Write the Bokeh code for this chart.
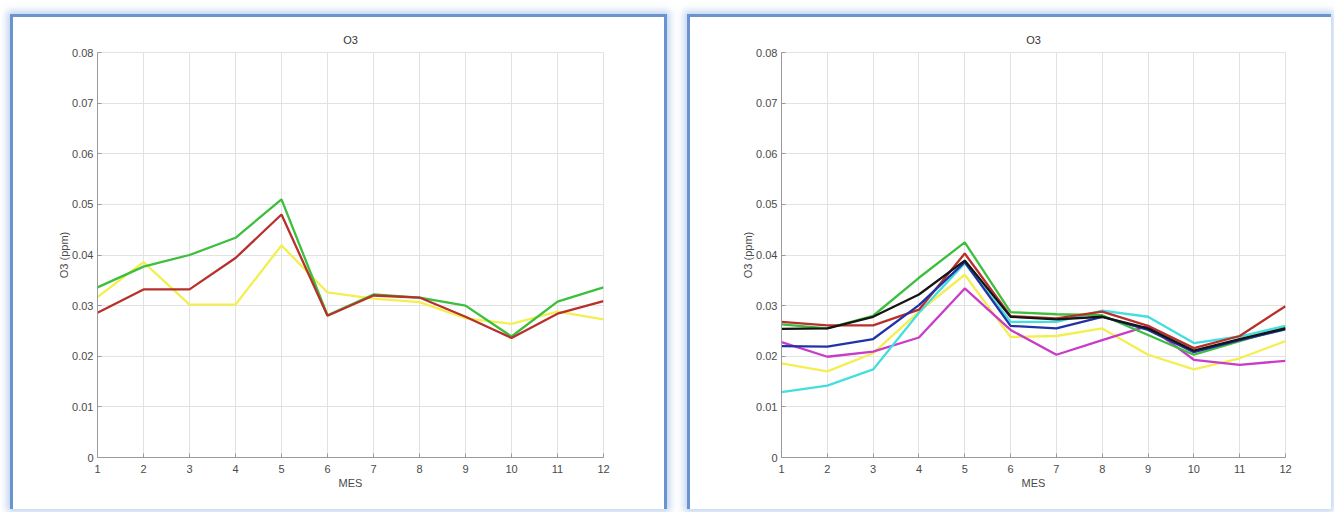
from bokeh.plotting import figure
from bokeh.layouts import row
from bokeh.models import FixedTicker, Range1d, CustomJSTickFormatter
from bokeh.embed import file_html
from bokeh.resources import INLINE

# ---------------- data ----------------
months = [1, 2, 3, 4, 5, 6, 7, 8, 9, 10, 11, 12]
y_ticks = [0.0, 0.01, 0.02, 0.03, 0.04, 0.05, 0.06, 0.07, 0.08]
title_text = "O3"
x_label = "MES"
y_label = "O3 (ppm)"

# left panel
left_yellow = [0.0317, 0.0386, 0.0302, 0.0302, 0.0419, 0.0326, 0.0314, 0.0307, 0.0275, 0.0264, 0.0288, 0.0273]
left_green = [0.0336, 0.0377, 0.0400, 0.0434, 0.0510, 0.0281, 0.0322, 0.0316, 0.0300, 0.0239, 0.0308, 0.0336]
left_red = [0.0286, 0.0332, 0.0332, 0.0394, 0.0480, 0.0280, 0.0320, 0.0316, 0.0278, 0.0236, 0.0284, 0.0309]

# right panel
right_yellow = [0.0186, 0.0170, 0.0206, 0.0288, 0.0361, 0.0238, 0.0240, 0.0255, 0.0203, 0.0174, 0.0196, 0.0230]
right_magenta = [0.0228, 0.0199, 0.0209, 0.0237, 0.0334, 0.0252, 0.0203, 0.0232, 0.0260, 0.0193, 0.0183, 0.0191]
right_cyan = [0.0129, 0.0142, 0.0174, 0.0286, 0.0384, 0.0268, 0.0268, 0.0290, 0.0278, 0.0226, 0.0239, 0.0260]
right_green = [0.0263, 0.0255, 0.0280, 0.0355, 0.0425, 0.0287, 0.0283, 0.0281, 0.0242, 0.0203, 0.0230, 0.0256]
right_red = [0.0268, 0.0261, 0.0261, 0.0292, 0.0403, 0.0279, 0.0275, 0.0288, 0.0260, 0.0216, 0.0240, 0.0299]
right_blue = [0.0220, 0.0219, 0.0234, 0.0301, 0.0386, 0.0260, 0.0255, 0.0278, 0.0252, 0.0208, 0.0232, 0.0253]
right_black = [0.0254, 0.0255, 0.0278, 0.0322, 0.0389, 0.0278, 0.0273, 0.0278, 0.0255, 0.0211, 0.0234, 0.0255]

C_YELLOW = "#f3ef50"
C_GREEN = "#3cbf3c"
C_RED = "#b8302c"
C_MAGENTA = "#c83cc8"
C_CYAN = "#45dede"
C_BLUE = "#2233a8"
C_BLACK = "#151515"

left_series = [(left_yellow, C_YELLOW), (left_green, C_GREEN), (left_red, C_RED)]
right_series = [(right_yellow, C_YELLOW), (right_magenta, C_MAGENTA), (right_cyan, C_CYAN),
                (right_green, C_GREEN), (right_red, C_RED), (right_blue, C_BLUE),
                (right_black, C_BLACK)]

FONT = "Liberation Sans"
BORDER = "3px solid #6a94cf"
SHADOW = "0 0 7px 3px rgba(140,175,225,0.55)"


def make_panel(width, height, mb_left, mb_right, mb_top, mb_bottom, series, margin, styles):
    p = figure(width=width, height=height, output_backend="svg", toolbar_location=None,
               x_range=Range1d(months[0], months[-1]), y_range=Range1d(y_ticks[0], y_ticks[-1]),
               min_border_left=mb_left, min_border_right=mb_right,
               min_border_top=mb_top, min_border_bottom=mb_bottom,
               margin=margin)
    p.styles = styles
    p.title.text = title_text
    p.title.align = "center"
    p.title.text_font = FONT
    p.title.text_font_size = "11px"
    p.title.text_font_style = "normal"
    p.title.text_color = "#333333"
    p.title.standoff = 13

    p.xaxis.ticker = FixedTicker(ticks=months)
    p.yaxis.ticker = FixedTicker(ticks=y_ticks)
    p.yaxis.formatter = CustomJSTickFormatter(code="return Math.abs(tick) < 1e-9 ? '0' : tick.toFixed(2);")
    p.xaxis.axis_label = x_label
    p.yaxis.axis_label = y_label
    for ax in (p.xaxis[0], p.yaxis[0]):
        ax.axis_line_color = "#9a9a9a"
        ax.major_tick_line_color = "#9a9a9a"
        ax.major_tick_in = 4
        ax.major_tick_out = 0
        ax.minor_tick_line_color = None
        ax.major_label_text_font = FONT
        ax.major_label_text_font_size = "11px"
        ax.major_label_text_color = "#4a4a4a"
        ax.axis_label_text_font = FONT
        ax.axis_label_text_font_size = "11px"
        ax.axis_label_text_font_style = "normal"
        ax.axis_label_text_color = "#4a4a4a"
    p.xaxis.major_label_standoff = 7
    p.xaxis.axis_label_standoff = 1
    p.yaxis.major_label_standoff = 4
    p.yaxis.axis_label_standoff = -1

    p.grid.grid_line_color = "#e2e2e2"
    p.grid.grid_line_width = 1
    p.outline_line_color = "#e2e2e2"
    p.background_fill_color = "white"
    p.border_fill_color = "white"

    for ys, col in series:
        p.line(months, ys, line_color=col, line_width=2.3)
    return p


left = make_panel(657, 495, 84, 67, 35, 55, left_series, (14, 0, 0, 10),
                  {"border-top": BORDER, "border-left": BORDER, "border-right": BORDER,
                   "box-shadow": SHADOW})
right = make_panel(644, 495, 91, 49, 35, 55, right_series, (14, 0, 0, 20),
                   {"border-top": BORDER, "border-left": BORDER, "box-shadow": SHADOW})

layout = row(left, right)
open("out.html", "w").write(file_html(layout, INLINE))
